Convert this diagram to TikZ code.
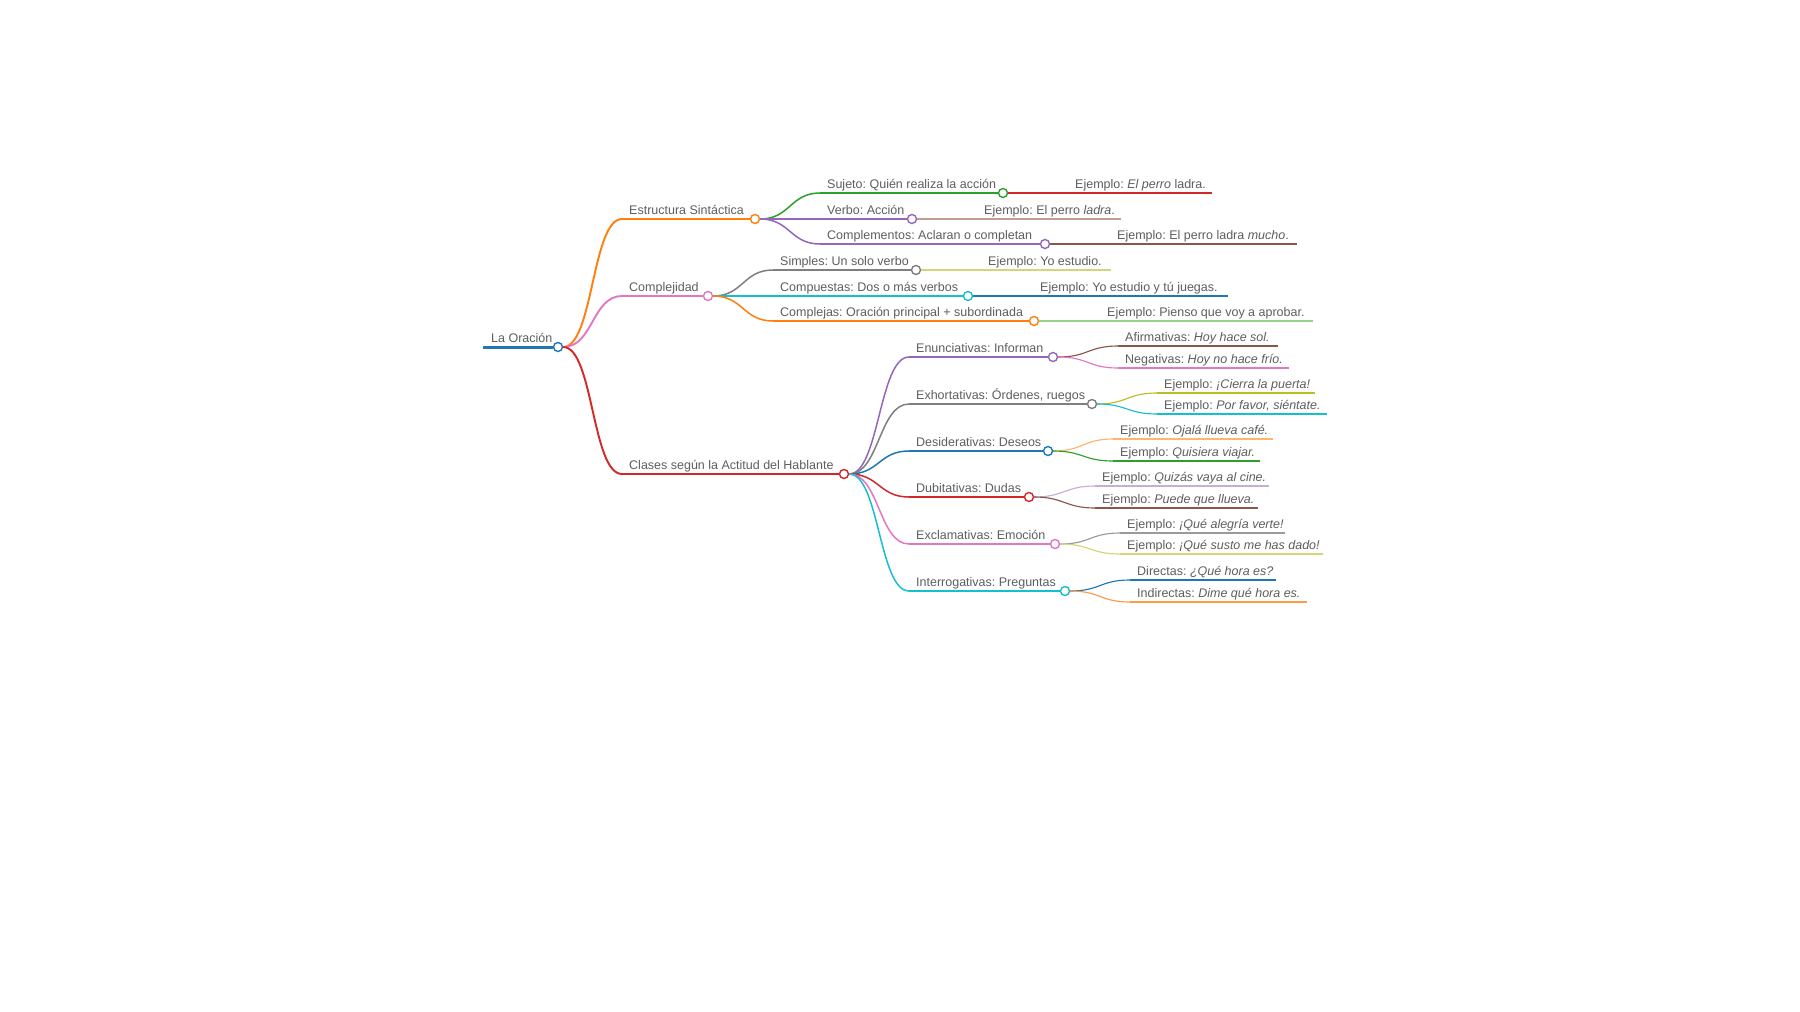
\documentclass[tikz,border=0pt]{standalone}
\usepackage{fontspec}
\setmainfont{Liberation Sans}
\usetikzlibrary{calc}
\definecolor{cblue}{HTML}{1F77B4}
\definecolor{corange}{HTML}{FF7F0E}
\definecolor{cgreen}{HTML}{2CA02C}
\definecolor{cred}{HTML}{D62728}
\definecolor{cpurple}{HTML}{9467BD}
\definecolor{cbrown}{HTML}{8C564B}
\definecolor{cpink}{HTML}{E377C2}
\definecolor{cgray}{HTML}{7F7F7F}
\definecolor{colive}{HTML}{BCBD22}
\definecolor{ccyan}{HTML}{17BECF}
\definecolor{lbrown}{HTML}{C49C94}
\definecolor{lolive}{HTML}{D4D47A}
\definecolor{lgreen}{HTML}{98D38A}
\definecolor{lorange}{HTML}{FFB470}
\definecolor{lpurple}{HTML}{C5B0D5}
\definecolor{lgray}{HTML}{9A9A9A}
\definecolor{morange}{HTML}{FF9A45}
\definecolor{txtgray}{HTML}{5E5E5E}
\newcommand\mmfont{\fontsize{12.5}{15}\selectfont\frenchspacing}
\tikzset{
  mmtext/.style={anchor=base west, inner sep=0pt, text=txtgray, font=\mmfont},
  mmcirc/.style={circle, fill=white, line width=1.4pt, minimum size=9pt, inner sep=0pt},
  mmlink/.style={to path={.. controls +(30,0) and +(-30,0) .. (\tikztotarget)}},
  leafline/.style={line width=1.15pt},
}
% #1 name #2 parent #3 color #4 width #5 xstart #6 y #7 xcircle #8 text
\newcommand\mmNode[8]{%
  \coordinate (#1-s) at (#5,#6);
  \draw[#3, line width=#4, mmlink] (#2.east) to (#1-s);
  \node[mmcirc, draw=#3] (#1) at (#7,#6) {};
  \draw[#3, line width=#4] (#1-s) -- (#1.west);
  \node[mmtext] (#1-t) at (#5+7,#6-5) {#8};
}
% #1 name #2 parent #3 color #4 xtext #5 y #6 xend #7 text
\newcommand\mmLeaf[7]{%
  \coordinate (#1-s) at (#4-7,#5);
  \coordinate (#1-e) at (#6,#5);
  \draw[#3, leafline, mmlink] (#2.east) to (#1-s);
  \draw[#3, leafline] (#1-s) -- (#1-e);
  \node[mmtext] (#1) at (#4,#5-5) {#7};
}
\begin{document}
\begin{tikzpicture}[x=1pt, y=-1pt]
\path[use as bounding box, fill=white] (0,0) rectangle (1800,1012);
% root
\coordinate (root-s) at (483,347);
\node[mmcirc, draw=cblue] (root) at (558,347) {};
\draw[cblue, line width=3pt] (root-s) -- (root.west);
\node[mmtext] (root-t) at (491,342) {La Oración};
% level 1
\mmNode{estr}{root}{corange}{1.9pt}{622}{219}{755}{Estructura Sintáctica}
\mmNode{comp}{root}{cpink}{1.9pt}{622}{296}{708}{Complejidad}
\mmNode{clas}{root}{cred}{1.9pt}{622}{474}{844}{Clases según la Actitud del Hablante}
% level 2
\mmNode{suj}{estr}{cgreen}{1.5pt}{820}{193}{1003}{Sujeto: Quién realiza la acción}
\mmNode{verb}{estr}{cpurple}{1.5pt}{820}{219}{912}{Verbo: Acción}
\mmNode{compl}{estr}{cpurple}{1.5pt}{820}{244}{1045}{Complementos: Aclaran o completan}
\mmNode{simp}{comp}{cgray}{1.5pt}{773}{270}{916}{Simples: Un solo verbo}
\mmNode{compu}{comp}{ccyan}{1.5pt}{773}{296}{968}{Compuestas: Dos o más verbos}
\mmNode{complej}{comp}{corange}{1.5pt}{773}{321}{1034}{Complejas: Oración principal + subordinada}
\mmNode{enun}{clas}{cpurple}{1.5pt}{909}{357}{1053}{Enunciativas: Informan}
\mmNode{exho}{clas}{cgray}{1.5pt}{909}{404}{1092}{Exhortativas: Órdenes, ruegos}
\mmNode{desi}{clas}{cblue}{1.5pt}{909}{451}{1048}{Desiderativas: Deseos}
\mmNode{dubi}{clas}{cred}{1.5pt}{909}{497}{1029}{Dubitativas: Dudas}
\mmNode{excl}{clas}{cpink}{1.5pt}{909}{544}{1055}{Exclamativas: Emoción}
\mmNode{inte}{clas}{ccyan}{1.5pt}{909}{591}{1065}{Interrogativas: Preguntas}
% leaves
\mmLeaf{suj-x}{suj}{cred}{1075}{193}{1212}{Ejemplo: \textit{El perro} ladra.}
\mmLeaf{verb-x}{verb}{lbrown}{984}{219}{1121}{Ejemplo: El perro \textit{ladra}.}
\mmLeaf{compl-x}{compl}{cbrown}{1117}{244}{1297}{Ejemplo: El perro ladra \textit{mucho}.}
\mmLeaf{simp-x}{simp}{lolive}{988}{270}{1111}{Ejemplo: Yo estudio.}
\mmLeaf{compu-x}{compu}{cblue}{1040}{296}{1228}{Ejemplo: Yo estudio y tú juegas.}
\mmLeaf{complej-x}{complej}{lgreen}{1107}{321}{1313}{Ejemplo: Pienso que voy a aprobar.}
\mmLeaf{enun-a}{enun}{cbrown}{1125}{346}{1278}{Afirmativas: \textit{Hoy hace sol.}}
\mmLeaf{enun-b}{enun}{cpink}{1125}{368}{1289}{Negativas: \textit{Hoy no hace frío.}}
\mmLeaf{exho-a}{exho}{colive}{1164}{393}{1315}{Ejemplo: \textit{¡Cierra la puerta!}}
\mmLeaf{exho-b}{exho}{ccyan}{1164}{414}{1327}{Ejemplo: \textit{Por favor, siéntate.}}
\mmLeaf{desi-a}{desi}{lorange}{1120}{439}{1273}{Ejemplo: \textit{Ojalá llueva café.}}
\mmLeaf{desi-b}{desi}{cgreen}{1120}{461}{1260}{Ejemplo: \textit{Quisiera viajar.}}
\mmLeaf{dubi-a}{dubi}{lpurple}{1102}{486}{1269}{Ejemplo: \textit{Quizás vaya al cine.}}
\mmLeaf{dubi-b}{dubi}{cbrown}{1102}{508}{1258}{Ejemplo: \textit{Puede que llueva.}}
\mmLeaf{excl-a}{excl}{lgray}{1127}{533}{1285}{Ejemplo: \textit{¡Qué alegría verte!}}
\mmLeaf{excl-b}{excl}{lolive}{1127}{554}{1323}{Ejemplo: \textit{¡Qué susto me has dado!}}
\mmLeaf{inte-a}{inte}{cblue}{1137}{580}{1276}{Directas: \textit{¿Qué hora es?}}
\mmLeaf{inte-b}{inte}{morange}{1137}{602}{1307}{Indirectas: \textit{Dime qué hora es.}}
\end{tikzpicture}
\end{document}
